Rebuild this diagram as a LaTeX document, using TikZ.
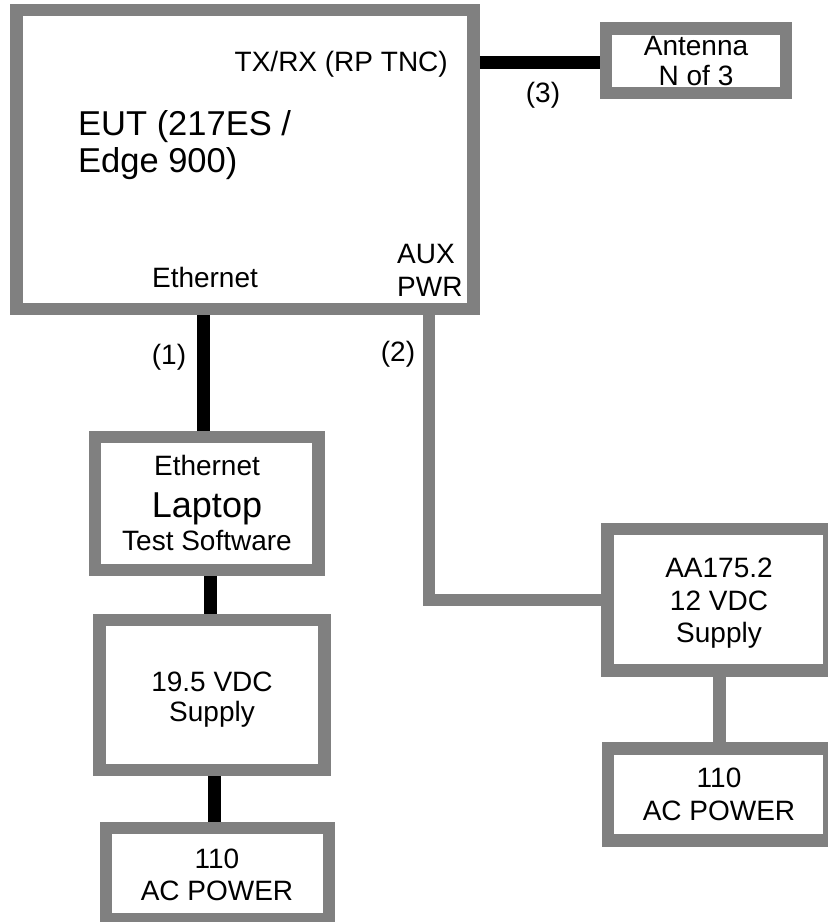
\documentclass[tikz,border=0pt]{standalone}
\usepackage{fontspec}
\setmainfont{Liberation Sans}
\definecolor{boxgray}{HTML}{808080}
\tikzset{
  box/.style={draw=boxgray, line width=12.5pt, fill=white, inner sep=0pt, line join=miter},
  gwire/.style={draw=boxgray, line width=12.5pt, line join=miter},
  bwire/.style={draw=black, line width=13pt},
  lbl/.style={inner sep=0pt, font=\fontsize{28}{32}\selectfont, text=black},
  biglbl/.style={inner sep=0pt, font=\fontsize{34.5}{37}\selectfont, text=black},
  laplbl/.style={inner sep=0pt, font=\fontsize{36}{40}\selectfont, text=black},
}
\begin{document}
\begin{tikzpicture}[x=1pt,y=1pt]
\useasboundingbox (0,0) rectangle (828,-922);
\begin{scope}
\clip (0,0) rectangle (828,-922);
% boxes
\node[box, minimum width=457pt, minimum height=299pt] (eut) at (245,-159.5) {};
\node[box, minimum width=180pt, minimum height=64.5pt] (ant) at (696,-60.75) {};
\node[box, minimum width=223.5pt, minimum height=133pt] (lap) at (206.75,-503.5) {};
\node[box, minimum width=225pt, minimum height=150pt] (psu) at (212,-695) {};
\node[box, minimum width=223pt, minimum height=91pt] (acl) at (217.5,-873.5) {};
\node[box, minimum width=221.5pt, minimum height=141.5pt] (aa) at (718.25,-599.75) {};
\node[box, minimum width=221pt, minimum height=92pt] (acr) at (718.5,-794.5) {};
% connector reference coordinates
\coordinate (c1) at (203.5,0);
\coordinate (c2) at (429,0);
\coordinate (c3) at (0,-62);
\coordinate (c4) at (210,0);
\coordinate (c5) at (214,0);
\coordinate (c6) at (719.5,0);
% connectors
\draw[bwire] (c1 |- eut.south) -- (c1 |- lap.north);
\draw[bwire] (eut.east |- c3) -- (ant.west |- c3);
\draw[bwire] (c4 |- lap.south) -- (c4 |- psu.north);
\draw[bwire] (c5 |- psu.south) -- (c5 |- acl.north);
\draw[gwire] (c2 |- eut.south) |- (aa.west);
\draw[gwire] (c6 |- aa.south) -- (c6 |- acr.north);
\end{scope}
% EUT labels
\node[lbl, anchor=base east] (txrx) at (448,-71) {TX/RX (RP TNC)};
\node[biglbl, anchor=base west] (eut1) at (78,-135) {EUT (217ES /};
\node[biglbl, anchor=base west] (eut2) at (78,-172) {Edge 900)};
\node[lbl, anchor=base] (eth) at (205,-287) {Ethernet};
\node[lbl, anchor=base west] (aux) at (397,-263) {AUX};
\node[lbl, anchor=base west] (pwr) at (397,-296) {PWR};
% connector labels
\node[lbl, anchor=base] (l1) at (169,-364) {(1)};
\node[lbl, anchor=base] (l2) at (398,-361) {(2)};
\node[lbl, anchor=base] (l3) at (543,-102) {(3)};
% antenna
\node[lbl, anchor=base] (ant1) at (696,-55) {Antenna};
\node[lbl, anchor=base] (ant2) at (696,-85) {N of 3};
% laptop
\node[lbl, anchor=base] (lap1) at (207,-475) {Ethernet};
\node[laplbl, anchor=base] (lap2) at (207,-517) {Laptop};
\node[lbl, anchor=base] (lap3) at (207,-550) {Test Software};
% 19.5 supply
\node[lbl, anchor=base] (psu1) at (212,-691) {19.5 VDC};
\node[lbl, anchor=base] (psu2) at (212,-721) {Supply};
% 110 left
\node[lbl, anchor=base] (acl1) at (217,-868) {110};
\node[lbl, anchor=base] (acl2) at (217,-900) {AC POWER};
% AA175.2
\node[lbl, anchor=base] (aa1) at (719,-577) {AA175.2};
\node[lbl, anchor=base] (aa2) at (719,-610) {12 VDC};
\node[lbl, anchor=base] (aa3) at (719,-642) {Supply};
% 110 right
\node[lbl, anchor=base] (acr1) at (719,-787) {110};
\node[lbl, anchor=base] (acr2) at (719,-820) {AC POWER};
\end{tikzpicture}
\end{document}
